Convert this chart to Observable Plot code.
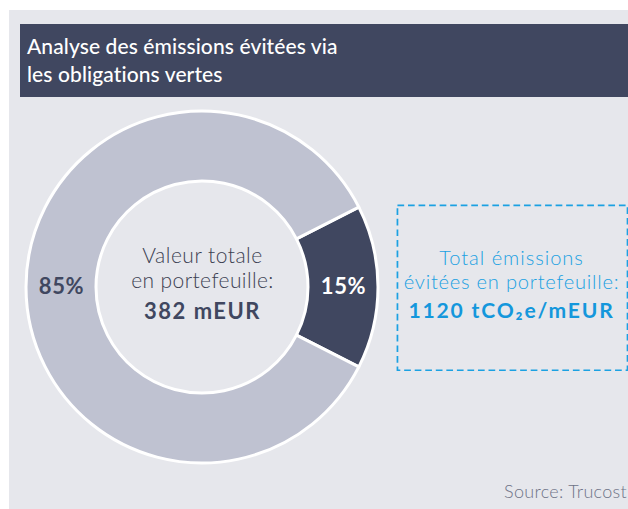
<!DOCTYPE html>
<html><head><meta charset="utf-8">
<script src="https://cdn.jsdelivr.net/npm/d3@7"></script>
<script src="https://cdn.jsdelivr.net/npm/@observablehq/plot@0.6"></script>
<style>
html,body{margin:0;padding:0;background:#fff;}
body{width:628px;height:509px;overflow:hidden;position:relative;font-family:Lato,"Open Sans",sans-serif;}
#panel{position:absolute;left:9px;top:10px;width:619px;height:499px;background:#e6e7ec;overflow:hidden;}
#title{position:absolute;left:11px;top:14px;right:0;height:73px;background:#404760;color:#fff;font-size:21px;line-height:28px;padding:8px 0 0 7px;box-sizing:border-box;font-weight:500;letter-spacing:0.1px;}
#donut{position:absolute;left:-1px;top:87px;}
#box{position:absolute;left:387px;top:194px;}
#source{position:absolute;right:1px;top:470px;font-size:18px;line-height:22px;color:#6e7387;font-weight:300;white-space:nowrap;letter-spacing:0.3px;}
</style>
</head><body>
<div id="panel">
  <div id="title"></div>
  <div id="donut"></div>
  <div id="box"></div>
  <div id="source"></div>
</div>
<script>
// ---- data ----
const titleLines = ["Analyse des émissions évitées via", "les obligations vertes"];
const categories = ["Obligations vertes", "Autres"];
const shares = [15, 85];
const shareLabels = ["15%", "85%"];
const centerLines = ["Valeur totale", "en portefeuille:", "382 mEUR"];
const boxLines = ["Total émissions", "évitées en portefeuille:", "1120 tCO₂e/mEUR"];
const sourceText = "Source: Trucost";

// ---- styles ----
const DARK = "#404760", LIGHT = "#bfc2d1", BLUE = "#1ba1e2";
const sliceColor = d3.scaleOrdinal(categories, [DARK, LIGHT]);
const labelColor = d3.scaleOrdinal(categories, ["#ffffff", DARK]);
const FONT = "Lato, 'Open Sans', sans-serif";

document.getElementById("title").innerHTML = titleLines.join("<br>");
document.getElementById("source").textContent = sourceText;

function spacing(svg, px) {
  d3.select(svg).selectAll("text").each(function () {
    const t = this.textContent;
    if (px[t] != null) this.setAttribute("letter-spacing", px[t]);
  });
}

const data = categories.map((c, i) => ({cat: c, value: shares[i], label: shareLabels[i]}));
const total = d3.sum(shares);
const a0 = Math.PI / 2 - (shares[0] / total) * Math.PI;
const pie = d3.pie().sort(null).value(d => d.value).startAngle(a0).endAngle(a0 + 2 * Math.PI);
const arcs = pie(data);

const W = 388, H = 380;
const R_OUT = 176, R_IN = 106;
const arcGen = d3.arc().innerRadius(R_IN).outerRadius(R_OUT);
const labelData = arcs.map(a => {
  const [x, y] = arcGen.centroid(a);
  return {x, y, label: a.data.label, cat: a.data.cat};
});

const donutMark = (...args) => {
  const scales = args.find(a => a && typeof a === "object" && typeof a.x === "function" && typeof a.y === "function");
  const cx = scales.x(0), cy = scales.y(0);
  const k = Math.abs(scales.x(1) - scales.x(0));
  const arc = d3.arc().innerRadius(R_IN * k).outerRadius(R_OUT * k);
  const g = d3.create("svg:g").attr("transform", `translate(${cx},${cy})`);
  g.selectAll("path").data(arcs).join("path")
    .attr("d", arc)
    .attr("fill", d => sliceColor(d.data.cat))
    .attr("stroke", "#fff")
    .attr("stroke-width", 3)
    .attr("stroke-linejoin", "round");
  return g.node();
};

const donut = Plot.plot({
  width: W, height: H, margin: 0,
  style: {background: "transparent", fontFamily: FONT},
  x: {domain: [-W / 2, W / 2], axis: null},
  y: {domain: [-H / 2, H / 2], reverse: true, axis: null},
  marks: [
    donutMark,
    Plot.text(labelData, {x: "x", y: "y", dy: -1, text: "label", fill: d => labelColor(d.cat), fontSize: 22, fontWeight: 700}),
    Plot.text([centerLines[0]], {frameAnchor: "middle", dy: -31, fontSize: 21, fontWeight: 300, fill: "#3c4152"}),
    Plot.text([centerLines[1]], {frameAnchor: "middle", dy: -6, fontSize: 21, fontWeight: 300, fill: "#3c4152"}),
    Plot.text([centerLines[2]], {frameAnchor: "middle", dy: 24, fontSize: 22, fontWeight: 700, fill: DARK})
  ]
});
spacing(donut, {
  [centerLines[0]]: 0.5, [centerLines[1]]: 0.4, [centerLines[2]]: 1.5,
  [shareLabels[0]]: 0.6, [shareLabels[1]]: 0.6
});
document.getElementById("donut").appendChild(donut);

const BW = 242, BH = 174;
const box = Plot.plot({
  width: BW, height: BH, margin: 0,
  style: {background: "transparent", fontFamily: FONT},
  marks: [
    Plot.frame({stroke: BLUE, strokeWidth: 1.8, strokeDasharray: "7,4", inset: 1}),
    Plot.text([boxLines[0]], {frameAnchor: "middle", dx: -1, dy: -31, fontSize: 21, fontWeight: 300, fill: BLUE}),
    Plot.text([boxLines[1]], {frameAnchor: "middle", dx: -1, dy: -6, fontSize: 21, fontWeight: 300, fill: BLUE}),
    Plot.text([boxLines[2]], {frameAnchor: "middle", dx: -1, dy: 24, fontSize: 22, fontWeight: 700, fill: "#1497dc"})
  ]
});
spacing(box, {[boxLines[0]]: 1, [boxLines[1]]: 0.8, [boxLines[2]]: 1.9});
document.getElementById("box").appendChild(box);
</script>
</body></html>
